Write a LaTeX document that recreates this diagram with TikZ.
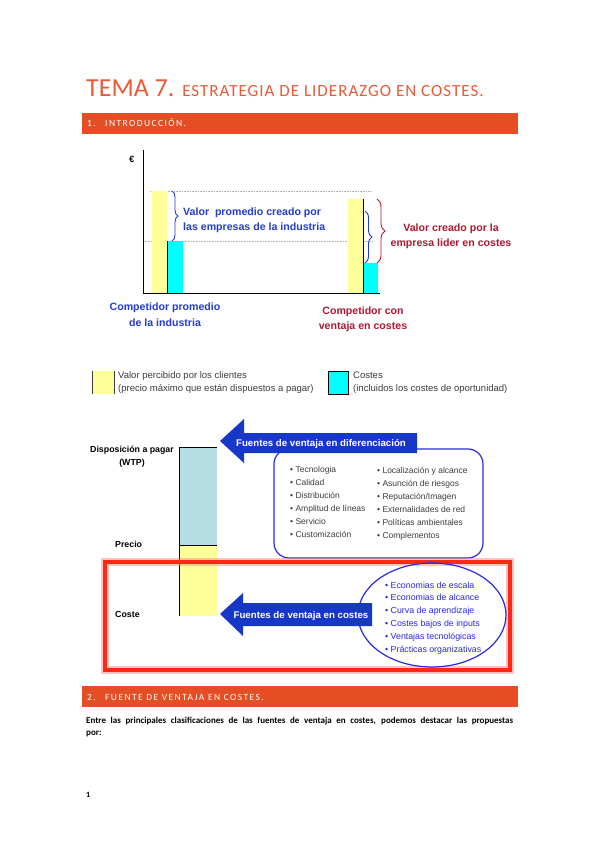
\documentclass[tikz,border=0pt]{standalone}
\usepackage{fontspec}
\setmainfont{Carlito}
\newfontfamily\arialfont{Liberation Sans}
\newfontfamily\barfont[LetterSpace=15]{Carlito}
\newfontfamily\subtitlefont[LetterSpace=6]{Carlito}
\usetikzlibrary{decorations.pathreplacing}

\definecolor{titlered}{RGB}{233,90,55}
\definecolor{barred}{RGB}{229,77,36}
\definecolor{chartblue}{RGB}{35,60,205}
\definecolor{chartred}{RGB}{175,25,50}
\definecolor{arrowblue}{RGB}{22,55,200}
\definecolor{framered}{RGB}{255,40,20}
\definecolor{boxblue}{RGB}{40,40,230}
\definecolor{yellowbar}{RGB}{255,255,153}
\definecolor{cyanbar}{RGB}{0,255,255}
\definecolor{wtpblue}{RGB}{183,222,228}
\definecolor{listgray}{RGB}{60,60,60}

\def\setsz#1#2{\fontsize{#1}{#2}\selectfont}

\begin{document}
\begin{tikzpicture}[x=1pt, y=-1pt,
    hdrtext/.style={anchor=base west, inner sep=0, text=white, font=\barfont\setsz{9.5}{11}},
    valblue/.style={inner sep=0, text=chartblue, align=left, font=\arialfont\bfseries\setsz{10.6}{15.5}},
    valred/.style={inner sep=0, text=chartred, align=center, font=\arialfont\bfseries\setsz{10.6}{15}},
    legtext/.style={anchor=base west, inner sep=0, text=listgray, align=left, font=\arialfont\setsz{9.5}{13}},
    wtplabel/.style={inner sep=0, align=center, font=\arialfont\bfseries\setsz{8.8}{13}},
    listtext/.style={anchor=base west, inner sep=0, text=listgray, align=left, font=\arialfont\setsz{8.5}{13}},
    costlist/.style={anchor=base west, inner sep=0, text=boxblue, align=left, font=\arialfont\setsz{8.8}{12.8}},
    arrtext/.style={anchor=base, inner sep=0, text=white, font=\arialfont\bfseries\setsz{9.7}{11}},
    dotgrid/.style={gray!60, densely dotted, line width=0.6pt},
    bluebrace/.style={chartblue, line width=0.9pt, decorate, decoration={brace, amplitude=#1}},
    redbrace/.style={chartred, line width=0.9pt, decorate, decoration={brace, amplitude=#1}}]
  \fill[white] (0,0) rectangle (599,848);
  \useasboundingbox (0,0) rectangle (599,848);

  \node[anchor=base west, inner sep=0, text=titlered, font=\setsz{26}{30}] (title) at (86,97)
    {TEMA 7. {\subtitlefont\setsz{17}{20}ESTRATEGIA DE LIDERAZGO EN COSTES.}};

  \fill[barred] (82,113) rectangle (518,134);
  \node[hdrtext] (sec1num) at (87,127) {1.};
  \node[hdrtext] (sec1) at (105,127) {INTRODUCCIÓN.};

  \draw[dotgrid] (150,191) -- (372,191);
  \draw[dotgrid] (143,241) -- (372,241);
  \fill[yellowbar] (152,191) rectangle (167,293);
  \fill[cyanbar] (167,241) rectangle (183,293);
  \draw (167,241) -- (167,293);
  \fill[yellowbar] (348,199) rectangle (363,293);
  \fill[cyanbar] (363,263) rectangle (378,293);
  \draw (363,199) -- (363,293);
  \draw (143,150) -- (143,293) -- (380,293);
  \node[anchor=base, inner sep=0, font=\arialfont\bfseries\setsz{9}{10}] (euro) at (132,162) {€};

  \coordinate (promtop) at (172,191);
  \coordinate (prombot) at (172,241);
  \draw[bluebrace=6pt] (promtop) -- (prombot);
  \coordinate (lidtop) at (365,211);
  \coordinate (lidbot) at (365,263);
  \draw[bluebrace=7pt] (lidtop) -- (lidbot);
  \coordinate (redtop) at (377,199);
  \coordinate (redbot) at (377,263);
  \draw[redbrace=8pt] (redtop) -- (redbot);

  \node[valblue, anchor=base west] (valprom) at (183,230.5) {Valor\ \ promedio creado por\\las empresas de la industria};
  \node[valred, anchor=base] (vallider) at (451,246) {Valor creado por la\\empresa lider en costes};
  \node[valblue, align=center, anchor=base] (compprom) at (165,326) {Competidor promedio\\de la industria};
  \node[valred, anchor=base] (complider) at (363,329) {Competidor con\\ventaja en costes};

  \fill[yellowbar] (92,371) rectangle (114,394);
  \draw[darkgray] (92,371) -- (92,394) (114,371) -- (114,394);
  \node[legtext] (legvalor) at (118,391) {Valor percibido por los clientes\\(precio máximo que están dispuestos a pagar)};
  \filldraw[fill=cyanbar, draw=black, line width=0.8pt] (328,371) rectangle (348,394);
  \node[legtext] (legcostes) at (353,391) {Costes\\(incluidos los costes de oportunidad)};

  \fill[wtpblue] (179,447) rectangle (217,545);
  \fill[yellowbar] (179,545) rectangle (217,616);
  \draw (217,447) -- (179,447) -- (179,616);
  \draw (179,545) -- (217,545);
  \node[wtplabel, anchor=base] (wtp) at (132,465) {Disposición a pagar\\(WTP)};
  \node[wtplabel, anchor=base west] (precio) at (115,547) {Precio};
  \node[wtplabel, anchor=base west] (coste) at (115,617) {Coste};

  \draw[boxblue, line width=1.2pt, rounded corners=15pt] (274,449) rectangle (483,558);
  \node[listtext] (difleft) at (290,537) {• Tecnologia\\• Calidad\\• Distribución\\• Amplitud de líneas\\• Servicio\\• Customización};
  \node[listtext] (difright) at (377,538) {• Localización y alcance\\• Asunción de riesgos\\• Reputación/Imagen\\• Externalidades de red\\• Políticas ambientales\\• Complementos};
  \fill[arrowblue] (220,441) -- (244,419) -- (244,433) -- (417,433) -- (417,453) -- (244,453) -- (244,463) -- cycle;
  \node[arrtext] (difarrow) at (321,446) {Fuentes de ventaja en diferenciación};

  \draw[framered!60, opacity=0.45, line width=8pt] (104.5,562) rectangle (510,670);
  \draw[framered, line width=4pt] (104.5,562) rectangle (510,670);

  \draw[boxblue, line width=1.2pt] (432,615) ellipse [x radius=74pt, y radius=52pt];
  \node[costlist] (costitems) at (385,652) {• Economias de escala\\• Economias de alcance\\• Curva de aprendizaje\\• Costes bajos de inputs\\• Ventajas tecnológicas\\• Prácticas organizativas};
  \fill[arrowblue] (220,614) -- (243,593) -- (243,603) -- (372,603) -- (372,626) -- (243,626) -- (243,636) -- cycle;
  \node[arrtext] (costarrow) at (301,618) {Fuentes de ventaja en costes};

  \fill[barred] (82,686) rectangle (518,707);
  \node[hdrtext] (sec2num) at (87,700) {2.};
  \node[hdrtext] (sec2) at (105,700) {FUENTE DE VENTAJA EN COSTES.};

  \node[anchor=base west, inner sep=0, text width=427pt, align=justify, font=\bfseries\setsz{9}{12}] (intro) at (86,723)
    {Entre las principales clasificaciones de las fuentes de ventaja en costes, podemos destacar las propuestas\linebreak por:};
  \node[anchor=base west, inner sep=0, font=\bfseries\setsz{8}{10}] (pagenum) at (86,797) {1};
\end{tikzpicture}
\end{document}
